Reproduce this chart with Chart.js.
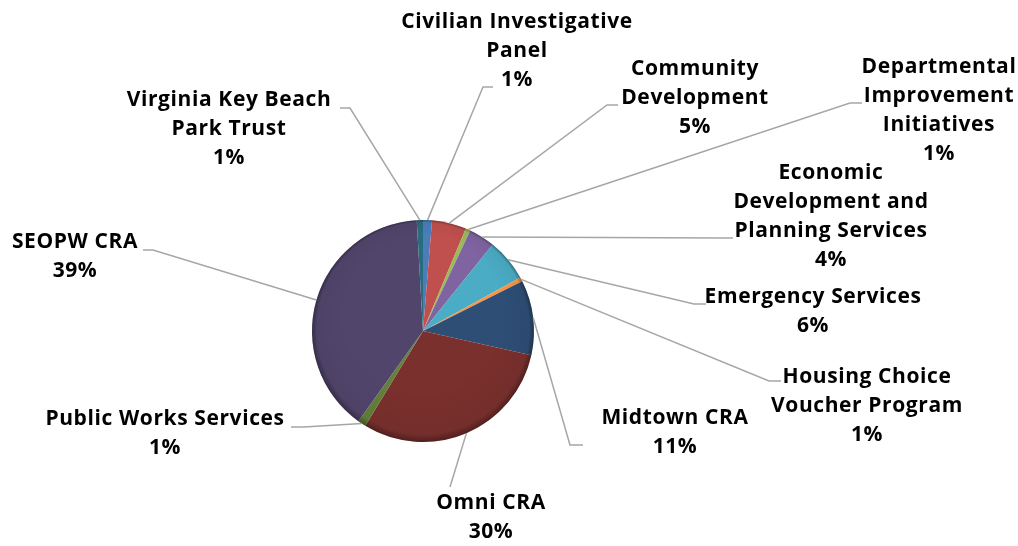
<!DOCTYPE html>
<html>
<head>
<meta charset="utf-8">
<script src="https://cdn.jsdelivr.net/npm/chart.js@4.4.1/dist/chart.umd.min.js"></script>
<style>
  html, body { margin: 0; padding: 0; background: #fff; }
  #wrap { width: 1018px; height: 546px; }
</style>
</head>
<body>
<div id="wrap"><canvas id="grafico"></canvas></div>
<script>
// Categorías (en líneas, como aparecen en la imagen)
const categorias = [
    ["Civilian Investigative", "Panel"],
    ["Community", "Development"],
    ["Departmental", "Improvement", "Initiatives"],
    ["Economic", "Development and", "Planning Services"],
    ["Emergency Services"],
    ["Housing Choice", "Voucher Program"],
    ["Midtown CRA"],
    ["Omni CRA"],
    ["Public Works Services"],
    ["SEOPW CRA"],
    ["Virginia Key Beach", "Park Trust"]
];

// Porcentajes estimados de cada porción
const valores = [1.3, 5.0, 0.7, 3.8, 6.2, 0.6, 10.9, 30.2, 1.2, 39.2, 0.9];

const colores = [
    '#4A7EBB', '#C0504D', '#9BBB59', '#8064A2', '#4BACC6', '#F79646',
    '#2E4E76', '#7A302D', '#64803A', '#52456C', '#2A6C7E'
];

// Posición de cada etiqueta: centro del texto, y de la primera línea, y la guía (p1 junto al texto, p2 codo)
const posEtiquetas = [
    { x: 517, y: 22,  p1: [493, 87],  p2: [483, 87] },
    { x: 695, y: 69,  p1: [618, 105], p2: [607, 105] },
    { x: 939, y: 67,  p1: [862, 103], p2: [850, 103] },
    { x: 831, y: 173, p1: [733, 238], p2: [723, 238] },
    { x: 813, y: 297, p1: [706, 304], p2: [694, 304] },
    { x: 867, y: 377, p1: [781, 381], p2: [769, 381] },
    { x: 675, y: 418, p1: [583, 445], p2: [570, 445] },
    { x: 491, y: 503, p1: [450, 487], p2: [450, 487] },
    { x: 165, y: 419, p1: [291, 427], p2: [304, 427] },
    { x: 75,  y: 242, p1: [143, 250], p2: [153, 250] },
    { x: 229, y: 100, p1: [340, 108], p2: [350, 108] }
];

const fuente = 'bold 21px "Open Sans", Lato, sans-serif';
const altoLinea = 29;

// Sombreado tipo bisel sobre el pastel
const sombreado = {
    id: 'sombreado',
    afterDatasetsDraw(chart) {
        const arco = chart.getDatasetMeta(0).data[0];
        if (!arco) return;
        const { x, y, outerRadius } = arco.getProps(['x', 'y', 'outerRadius'], true);
        const ctx = chart.ctx;
        ctx.save();
        ctx.beginPath();
        ctx.arc(x, y, outerRadius, 0, Math.PI * 2);
        ctx.clip();
        let g = ctx.createRadialGradient(x, y - outerRadius * 0.15, outerRadius * 0.7, x, y, outerRadius);
        g.addColorStop(0, 'rgba(0,0,0,0)');
        g.addColorStop(0.85, 'rgba(0,0,0,0.05)');
        g.addColorStop(1, 'rgba(0,0,0,0.35)');
        ctx.fillStyle = g;
        ctx.fillRect(x - outerRadius, y - outerRadius, outerRadius * 2, outerRadius * 2);
        ctx.restore();
    }
};

// Etiquetas con líneas guía
const etiquetas = {
    id: 'etiquetas',
    afterDraw(chart) {
        const ctx = chart.ctx;
        const meta = chart.getDatasetMeta(0);
        const datos = chart.data.datasets[0].data;
        const total = datos.reduce((a, b) => a + b, 0);
        ctx.save();
        meta.data.forEach((arco, i) => {
            const p = arco.getProps(['x', 'y', 'startAngle', 'endAngle', 'outerRadius'], true);
            const ang = (p.startAngle + p.endAngle) / 2;
            const ex = p.x + Math.cos(ang) * p.outerRadius;
            const ey = p.y + Math.sin(ang) * p.outerRadius;
            const pos = posEtiquetas[i];
            ctx.strokeStyle = '#A6A6A6';
            ctx.lineWidth = 1.5;
            ctx.beginPath();
            ctx.moveTo(pos.p1[0], pos.p1[1]);
            ctx.lineTo(pos.p2[0], pos.p2[1]);
            ctx.lineTo(ex, ey);
            ctx.stroke();

            const lineas = chart.data.labels[i].concat([Math.round(datos[i] / total * 100) + '%']);
            ctx.fillStyle = '#000';
            ctx.font = fuente;
            ctx.letterSpacing = '0.6px';
            ctx.textAlign = 'center';
            ctx.textBaseline = 'middle';
            lineas.forEach((t, k) => ctx.fillText(t, pos.x, pos.y + k * altoLinea));
        });
        ctx.restore();
    }
};

const config = {
    type: 'pie',
    data: {
        labels: categorias,
        datasets: [{
            data: valores,
            backgroundColor: colores,
            borderWidth: 0
        }]
    },
    options: {
        responsive: true,
        maintainAspectRatio: false,
        animation: false,
        layout: { padding: { left: 0, right: 172, top: 220, bottom: 104 } },
        plugins: {
            legend: { display: false },
            tooltip: { enabled: false }
        }
    },
    plugins: [sombreado, etiquetas]
};

const ctx = document.getElementById('grafico').getContext('2d');
new Chart(ctx, config);
</script>
</body>
</html>
